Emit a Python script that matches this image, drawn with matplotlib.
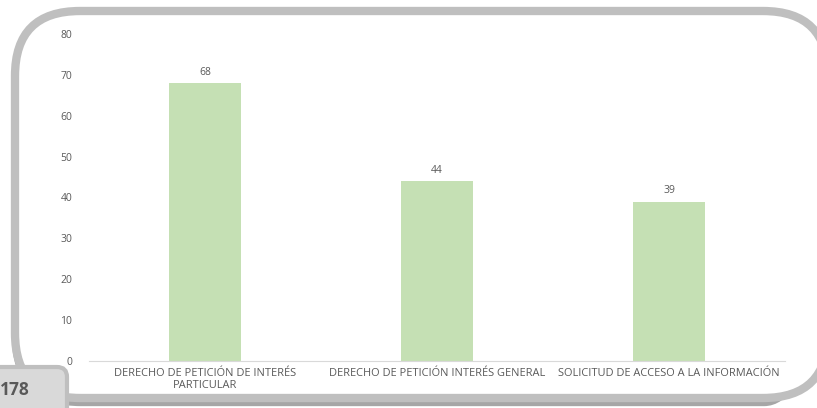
import matplotlib.pyplot as plt
from matplotlib.patches import FancyBboxPatch
import numpy as np

categories = ['DERECHO DE PETICIÓN DE INTERÉS\nPARTICULAR',
              'DERECHO DE PETICIÓN INTERÉS GENERAL',
              'SOLICITUD DE ACCESO A LA INFORMACIÓN']
values = [68, 44, 39]
yticks = [0, 10, 20, 30, 40, 50, 60, 70, 80]
page_number = '178'

plt.rcParams['font.family'] = ['Open Sans', 'DejaVu Sans']
text_gray = '#595959'

fig = plt.figure(figsize=(8.17, 4.08), dpi=100)

# background layer in pixel units for the rounded frame
bg = fig.add_axes([0, 0, 1, 1])
bg.set_xlim(0, 817)
bg.set_ylim(408, 0)
bg.axis('off')

shadow = FancyBboxPatch((16, 13), 813, 389, boxstyle='round,pad=0,rounding_size=65',
                        facecolor='none', edgecolor='#a6a6a6', linewidth=6)
bg.add_patch(shadow)
frame = FancyBboxPatch((15, 11), 813, 387, boxstyle='round,pad=0,rounding_size=65',
                       facecolor='white', edgecolor='#bfbfbf', linewidth=6)
bg.add_patch(frame)

page_box = FancyBboxPatch((-20, 367), 87, 60, boxstyle='round,pad=0,rounding_size=10',
                          facecolor='#d9d9d9', edgecolor='#bfbfbf', linewidth=3)
bg.add_patch(page_box)
bg.text(0, 390, page_number, fontsize=12.5, fontweight='bold', color=text_gray,
        ha='left', va='center')

# chart
ax = fig.add_axes([0.109, 0.115, 0.852, 0.802])
ax.patch.set_alpha(0)
x = np.arange(len(categories))
bars = ax.bar(x, values, width=0.31, color='#c5e0b4')
for xi, v in zip(x, values):
    ax.text(xi, v + 1.3, str(v), ha='center', va='bottom', fontsize=7.5, color=text_gray)

ax.set_xlim(-0.5, len(categories) - 0.5)
ax.set_ylim(0, 80)
ax.set_yticks(yticks)
ax.set_xticks(x)
ax.set_xticklabels(categories, fontsize=7.9, color=text_gray, linespacing=1.1)
ax.tick_params(axis='y', labelsize=7.5, labelcolor=text_gray, length=0, pad=12)
ax.tick_params(axis='x', length=0, pad=5)
for side in ['top', 'right', 'left']:
    ax.spines[side].set_visible(False)
ax.spines['bottom'].set_color('#d9d9d9')

plt.savefig('out.png', dpi=100)
